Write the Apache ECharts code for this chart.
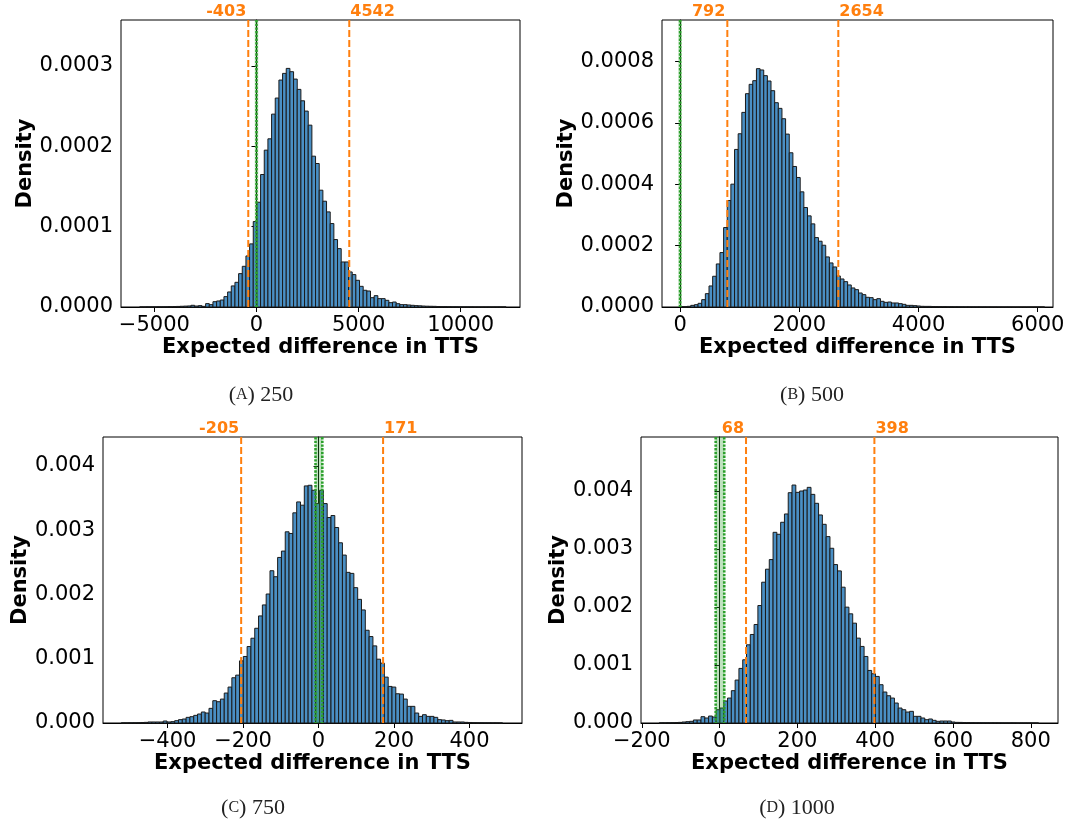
<!DOCTYPE html>
<html><head><meta charset="utf-8">
<script src="https://cdn.jsdelivr.net/npm/echarts@6/dist/echarts.min.js"></script>
<style>html,body{margin:0;padding:0;background:#fff}#c{width:1069px;height:827px}</style>
</head><body><div id="c"></div>
<script>
// ---------- data ----------
const binStartA = -5720, binWidthA = 179.4;
const densityA = [0.001e-4,0.001e-4,0.002e-4,0.002e-4,0.002e-4,0.003e-4,0.003e-4,0.004e-4,0.005e-4,0.006e-4,0.007e-4,0.009e-4,0.011e-4,0.013e-4,
0.021e-4,0.012e-4,0.017e-4,0.008e-4,0.042e-4,0.029e-4,0.066e-4,0.075e-4,0.087e-4,0.129e-4,0.187e-4,0.262e-4,0.307e-4,0.415e-4,0.506e-4,0.635e-4,0.785e-4,1.063e-4,1.303e-4,1.648e-4,1.951e-4,2.092e-4,2.399e-4,2.599e-4,2.823e-4,2.906e-4,2.968e-4,2.927e-4,2.835e-4,2.707e-4,2.565e-4,2.437e-4,2.262e-4,1.876e-4,1.785e-4,1.453e-4,1.316e-4,1.183e-4,1.038e-4,0.839e-4,0.726e-4,0.560e-4,0.560e-4,0.436e-4,0.403e-4,0.332e-4,0.257e-4,0.208e-4,0.199e-4,0.116e-4,0.141e-4,0.104e-4,0.104e-4,0.083e-4,
0.054e-4,0.062e-4,0.041e-4,0.029e-4,0.029e-4,0.025e-4,0.021e-4,0.017e-4,0.015e-4,0.012e-4,0.010e-4,0.009e-4,0.008e-4,0.006e-4,0.005e-4,0.005e-4,0.004e-4,0.003e-4,0.003e-4,0.002e-4,0.002e-4,0.002e-4,0.002e-4,0.001e-4,0.001e-4,0.001e-4,0.001e-4,0.001e-4,0.001e-4,0.001e-4,0.001e-4,0.001e-4];

const binStartB = -5, binWidthB = 61.2;
const densityB = [0.011e-4,0.011e-4,0.022e-4,0.054e-4,0.076e-4,0.120e-4,0.240e-4,0.435e-4,0.686e-4,1.002e-4,1.404e-4,1.775e-4,2.591e-4,3.473e-4,4.006e-4,5.139e-4,5.650e-4,6.347e-4,6.957e-4,7.262e-4,7.381e-4,7.773e-4,7.730e-4,7.545e-4,7.370e-4,7.055e-4,6.663e-4,6.478e-4,6.140e-4,5.639e-4,5.030e-4,4.583e-4,4.224e-4,3.756e-4,3.244e-4,2.972e-4,2.711e-4,2.264e-4,2.145e-4,2.014e-4,1.633e-4,1.437e-4,1.306e-4,1.012e-4,0.914e-4,0.827e-4,0.719e-4,0.621e-4,0.566e-4,0.457e-4,0.403e-4,0.316e-4,0.305e-4,0.240e-4,0.272e-4,
0.185e-4,0.152e-4,0.163e-4,0.131e-4,0.131e-4,0.109e-4,0.087e-4,0.054e-4,0.054e-4,0.044e-4,0.033e-4,0.022e-4,
0.020e-4,0.020e-4,0.015e-4,0.015e-4,0.012e-4,0.012e-4,0.010e-4,0.010e-4,0.008e-4,0.008e-4,0.007e-4,0.006e-4,0.006e-4,0.005e-4,0.005e-4,0.004e-4,0.004e-4,0.003e-4,0.003e-4,0.003e-4,0.002e-4,0.002e-4,0.002e-4,0.002e-4,0.001e-4,0.001e-4,0.001e-4,0.001e-4,0.001e-4,0.001e-4,0.001e-4,0.001e-4,0.001e-4];

const binStartC = -522.5, binWidthC = 10.1;
const densityC = [0.002e-3,0.002e-3,0.003e-3,0.004e-3,0.005e-3,0.008e-3,0.010e-3,
0.016e-3,0.016e-3,0.016e-3,0.016e-3,0.031e-3,0.016e-3,0.021e-3,0.036e-3,0.052e-3,0.062e-3,0.088e-3,0.098e-3,0.119e-3,0.140e-3,0.171e-3,0.155e-3,0.228e-3,0.347e-3,0.331e-3,0.372e-3,0.466e-3,0.559e-3,0.704e-3,0.745e-3,0.967e-3,1.035e-3,1.190e-3,1.319e-3,1.474e-3,1.666e-3,1.837e-3,2.007e-3,2.369e-3,2.276e-3,2.576e-3,2.675e-3,2.975e-3,2.949e-3,3.270e-3,3.440e-3,3.389e-3,3.689e-3,3.699e-3,3.621e-3,3.414e-3,
3.621e-3,3.414e-3,3.197e-3,3.228e-3,3.042e-3,2.804e-3,2.613e-3,2.344e-3,2.328e-3,2.106e-3,1.924e-3,1.759e-3,1.443e-3,1.345e-3,1.200e-3,0.993e-3,0.931e-3,0.714e-3,0.569e-3,0.559e-3,0.455e-3,0.450e-3,0.372e-3,0.259e-3,0.259e-3,0.155e-3,0.103e-3,0.129e-3,0.103e-3,0.103e-3,0.088e-3,0.052e-3,0.047e-3,0.036e-3,0.041e-3,0.016e-3,0.016e-3,0.016e-3,
0.010e-3,0.008e-3,0.006e-3,0.005e-3,0.004e-3,0.003e-3,0.003e-3,0.002e-3,0.002e-3,0.001e-3];

const binStartD = -155, binWidthD = 9.75;
const densityD = [0.003e-3,0.003e-3,0.005e-3,0.006e-3,0.008e-3,
0.011e-3,0.017e-3,0.023e-3,0.029e-3,0.052e-3,0.052e-3,0.109e-3,0.086e-3,0.120e-3,0.103e-3,0.229e-3,0.258e-3,0.379e-3,0.430e-3,0.557e-3,0.740e-3,0.941e-3,1.090e-3,1.348e-3,1.526e-3,1.698e-3,2.025e-3,2.427e-3,2.651e-3,2.817e-3,3.287e-3,3.253e-3,3.460e-3,3.603e-3,3.970e-3,4.102e-3,3.976e-3,3.999e-3,4.016e-3,4.062e-3,3.941e-3,3.787e-3,3.586e-3,3.425e-3,3.213e-3,3.012e-3,2.731e-3,2.622e-3,2.341e-3,1.997e-3,1.882e-3,1.721e-3,1.463e-3,1.320e-3,1.147e-3,0.906e-3,0.849e-3,0.803e-3,0.660e-3,0.534e-3,0.470e-3,0.430e-3,0.344e-3,0.258e-3,0.229e-3,0.189e-3,0.201e-3,0.115e-3,0.115e-3,0.086e-3,0.057e-3,0.069e-3,0.046e-3,0.029e-3,0.034e-3,0.034e-3,0.034e-3,0.017e-3,0.011e-3,
0.010e-3,0.008e-3,0.008e-3,0.006e-3,0.005e-3,0.005e-3,0.004e-3,0.004e-3,0.003e-3,0.003e-3,0.003e-3,0.002e-3,0.002e-3,0.002e-3,0.002e-3,0.001e-3,0.001e-3,0.001e-3,0.001e-3,0.001e-3,0.001e-3];

const ciA = [-403, 4542], ciB = [792, 2654], ciC = [-205, 171], ciD = [68, 398];
const bandA = [0, 0], bandB = [0, 0], bandC = [-8, 10], bandD = [-10, 12];

const xTicksA = [-5000, 0, 5000, 10000];
const xTicksB = [0, 2000, 4000, 6000];
const xTicksC = [-400, -200, 0, 200, 400];
const xTicksD = [-200, 0, 200, 400, 600, 800];
const yTicksA = [0, 0.0001, 0.0002, 0.0003];
const yTicksB = [0, 0.0002, 0.0004, 0.0006, 0.0008];
const yTicksC = [0, 0.001, 0.002, 0.003, 0.004];
const yTicksD = [0, 0.001, 0.002, 0.003, 0.004];

const captionLetters = ['A', 'B', 'C', 'D'];
const captionNumbers = ['250', '500', '750', '1000'];
const xTitle = 'Expected difference in TTS';
const yTitle = 'Density';

// ---------- layout ----------
const panels = [
  {grid:{left:121, top:20, width:399, height:287}, xr:[-6634, 12901], yr:[0, 0.000357], start:binStartA, w:binWidthA, dens:densityA, ci:ciA, band:bandA, xt:xTicksA, yt:yTicksA, dec:4, nameGapY:84, cap:[261,395]},
  {grid:{left:662, top:20, width:391, height:287}, xr:[-304, 6256], yr:[0, 0.000936], start:binStartB, w:binWidthB, dens:densityB, ci:ciB, band:bandB, xt:xTicksB, yt:yTicksB, dec:4, nameGapY:85, cap:[812,395]},
  {grid:{left:103, top:437, width:419, height:286}, xr:[-571, 539], yr:[0, 0.00445], start:binStartC, w:binWidthC, dens:densityC, ci:ciC, band:bandC, xt:xTicksC, yt:yTicksC, dec:3, nameGapY:69, cap:[253,808]},
  {grid:{left:641, top:437, width:417, height:286}, xr:[-202, 870], yr:[0, 0.00493], start:binStartD, w:binWidthD, dens:densityD, ci:ciD, band:bandD, xt:xTicksD, yt:yTicksD, dec:3, nameGapY:71, cap:[797,808]}
];

const FONT = 'DejaVu Sans';
const BAR_FILL = '#4a8fc4';

function histItem(params, api) {
  const p0 = api.coord([api.value(0), api.value(2)]);
  const p1 = api.coord([api.value(1), 0]);
  return {type:'rect', shape:{x:p0[0], y:p0[1], width:p1[0]-p0[0], height:p1[1]-p0[1]},
    style:{fill:BAR_FILL, stroke:'#1a1a1a', lineWidth:1}};
}
function bandItem(params, api) {
  const a = api.coord([api.value(0), 0])[0], b = api.coord([api.value(1), 0])[0];
  const cs = params.coordSys, top = cs.y, bot = cs.y + cs.height;
  const dots = {stroke:'#2ca02c', lineWidth:2.6, lineDash:[2.4,1.3]};
  const kids = [];
  if (b - a > 0.5) {
    kids.push({type:'rect', shape:{x:a, y:top, width:b-a, height:bot-top}, style:{fill:'rgba(44,160,44,0.3)'}});
  } else {
    kids.push({type:'rect', shape:{x:a-1.8, y:top, width:3.6, height:bot-top}, style:{fill:'rgba(44,160,44,0.25)'}});
  }
  kids.push({type:'line', shape:{x1:a, y1:top, x2:a, y2:bot}, style:dots});
  if (b - a > 0.5) kids.push({type:'line', shape:{x1:b, y1:top, x2:b, y2:bot}, style:dots});
  return {type:'group', children:kids};
}
function ciItem(params, api) {
  const v = api.value(0);
  const x = api.coord([v, 0])[0];
  const cs = params.coordSys;
  const isLeft = params.dataIndex === 0;
  return {type:'group', children:[
    {type:'line', shape:{x1:x, y1:cs.y, x2:x, y2:cs.y+cs.height}, style:{stroke:'#ff7f0e', lineWidth:2, lineDash:[7,3]}},
    {type:'text', x: isLeft ? x-2 : x+1, y: cs.y, style:{text:String(v), fill:'#ff7f0e', font:'bold 16px "DejaVu Sans"', align: isLeft ? 'right' : 'left', verticalAlign:'bottom'}}
  ]};
}

const grids = [], xAxes = [], yAxes = [], series = [], graphics = [];
panels.forEach((p, i) => {
  grids.push(Object.assign({show:true, borderColor:'#000', borderWidth:1, backgroundColor:'#fff'}, p.grid));
  xAxes.push({type:'value', gridIndex:i, min:p.xr[0], max:p.xr[1],
    name:xTitle, nameLocation:'middle', nameGap:28,
    nameTextStyle:{fontFamily:FONT, fontWeight:'bold', fontSize:21, color:'#000'},
    axisLine:{show:true, onZero:false, lineStyle:{color:'#000', width:1}},
    axisTick:{show:true, length:5, lineStyle:{color:'#000'}, customValues:p.xt},
    axisLabel:{fontFamily:FONT, fontSize:21, color:'#000', margin:8, customValues:p.xt,
      formatter: v => String(v).replace('-', '\u2212')},
    splitLine:{show:false}});
  yAxes.push({type:'value', gridIndex:i, min:p.yr[0], max:p.yr[1],
    name:yTitle, nameLocation:'middle', nameGap:p.nameGapY, nameRotate:90,
    nameTextStyle:{fontFamily:FONT, fontWeight:'bold', fontSize:21, color:'#000'},
    axisLine:{show:true, lineStyle:{color:'#000', width:1}},
    axisTick:{show:true, length:5, lineStyle:{color:'#000'}, customValues:p.yt},
    axisLabel:{fontFamily:FONT, fontSize:21, color:'#000', margin:8, customValues:p.yt,
      formatter: v => v.toFixed(p.dec)},
    splitLine:{show:false}});
  const hist = p.dens.map((d, k) => [p.start + k*p.w, p.start + (k+1)*p.w, d]);
  series.push({type:'custom', xAxisIndex:i, yAxisIndex:i, renderItem:histItem, data:hist, encode:{x:[0,1], y:2}, z:2, silent:true});
  series.push({type:'custom', xAxisIndex:i, yAxisIndex:i, renderItem:bandItem, data:[[p.band[0], p.band[1]]], encode:{x:[0,1]}, z:3, silent:true});
  series.push({type:'custom', xAxisIndex:i, yAxisIndex:i, renderItem:ciItem, data:p.ci.map(v => [v]), encode:{x:0}, z:4, silent:true});
  graphics.push({type:'text', x:p.cap[0], y:p.cap[1], style:{
    text:'{p|(}{s|' + captionLetters[i] + '}{p|) ' + captionNumbers[i] + '}',
    align:'center', verticalAlign:'middle',
    rich:{p:{fontFamily:'Liberation Serif', fontSize:22, fill:'#222', color:'#222'}, s:{fontFamily:'Liberation Serif', fontSize:16, fill:'#222', color:'#222'}}
  }});
});

const chart = echarts.init(document.getElementById('c'));
chart.setOption({animation:false, backgroundColor:'#fff', grid:grids, xAxis:xAxes, yAxis:yAxes, series:series, graphic:graphics});
</script></body></html>
